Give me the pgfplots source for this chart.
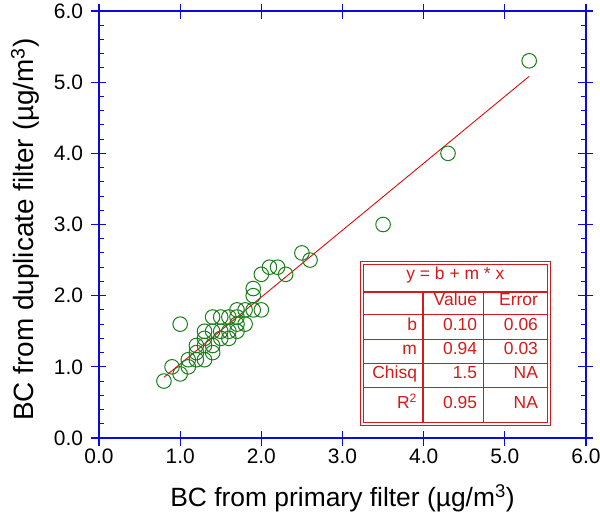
\documentclass[border=0pt]{standalone}
\usepackage{fontspec}
\setmainfont{Liberation Sans}
\usepackage{pgfplots}
\pgfplotsset{compat=1.18}

\definecolor{axblue}{RGB}{10,10,225}
\definecolor{mkgreen}{RGB}{25,125,25}
\definecolor{fitred}{RGB}{225,10,10}
\definecolor{tabred}{RGB}{215,25,25}

\begin{document}
\begin{tikzpicture}
\begin{axis}[
  scale only axis, width=487bp, height=427bp,
  xmin=0, xmax=6, ymin=0, ymax=6,
  axis line style={axblue, line width=1.3bp},
  xtick={0,1,...,6}, ytick={0,1,...,6},
  xticklabels={0.0,1.0,2.0,3.0,4.0,5.0,6.0},
  yticklabels={0.0,1.0,2.0,3.0,4.0,5.0,6.0},
  tick align=center, major tick length=15bp,
  major tick style={axblue, line width=1.2bp},
  ticklabel style={font=\fontsize{21}{25}\selectfont, black},
  yticklabel style={xshift=-5bp},
  xlabel={BC from primary filter (µg/m\textsuperscript{3})},
  ylabel={BC from duplicate filter (µg/m\textsuperscript{3})},
  every axis x label/.style={at={(rel axis cs:0.5,0)}, anchor=base, yshift=-68bp,
    font=\fontsize{26.5}{31}\selectfont},
  every axis y label/.style={at={(rel axis cs:0,0.488)}, xshift=-65.5bp, anchor=base, rotate=90,
    font=\fontsize{28}{33}\selectfont},
  clip=false,
]
\coordinate (O) at (rel axis cs:0,0);

% measured pairs (primary, duplicate)
\addplot[only marks, mark=o, mark size=7.3bp, mkgreen, mark options={line width=1bp}] coordinates {
 (0.8,0.8) (0.9,1.0) (1.0,0.9) (1.0,1.6) (1.1,1.0) (1.1,1.1)
 (1.2,1.1) (1.2,1.2) (1.2,1.3) (1.3,1.1) (1.3,1.3) (1.3,1.4) (1.3,1.5)
 (1.4,1.2) (1.4,1.3) (1.4,1.5) (1.4,1.7) (1.5,1.4) (1.5,1.5) (1.5,1.7)
 (1.6,1.4) (1.6,1.5) (1.6,1.7) (1.7,1.5) (1.7,1.6) (1.7,1.7) (1.7,1.8)
 (1.8,1.6) (1.8,1.8) (1.9,1.8) (1.9,2.0) (1.9,2.1) (2.0,1.8) (2.0,2.3)
 (2.1,2.4) (2.2,2.4) (2.3,2.3) (2.5,2.6) (2.6,2.5) (3.5,3.0) (4.3,4.0)
 (5.3,5.3)
};
% fit y = 0.10 + 0.94 x
\addplot[fitred, line width=0.9bp] coordinates {(0.8,0.852) (5.3,5.082)};

% fit results box
\fill[white] (axis cs:3.239,0.197) rectangle (axis cs:5.542,2.461);
\draw[tabred, line width=1bp] (axis cs:3.239,1.730) -- (axis cs:5.542,1.730);
\draw[tabred, line width=1bp] (axis cs:3.239,1.378) -- (axis cs:5.542,1.378);
\draw[tabred, line width=1bp] (axis cs:3.239,1.041) -- (axis cs:5.542,1.041);
\draw[tabred, line width=1bp] (axis cs:3.239,0.703) -- (axis cs:5.542,0.703);
\draw[tabred, line width=1bp] (axis cs:4.741,2.053) -- (axis cs:4.741,0.197);
\draw[tabred, line width=2bp] (axis cs:3.990,2.053) -- (axis cs:3.990,0.197);
\draw[tabred, line width=2bp] (axis cs:3.239,2.053) -- (axis cs:5.542,2.053);
\draw[tabred, line width=0.9bp, double=white, double distance=1.6bp] (axis cs:3.239,0.197) rectangle (axis cs:5.542,2.461);
\begin{scope}[every node/.style={tabred, font=\fontsize{17.5}{21}\selectfont, inner sep=0pt}]
\node[anchor=mid] at (axis cs:4.39,2.264) {y = b + m * x};
\node[anchor=mid east] at (axis cs:4.66,1.892) {Value};
\node[anchor=mid east] at (axis cs:5.41,1.892) {Error};
\node[anchor=mid east] at (axis cs:3.92,1.554) {b};
\node[anchor=mid east] at (axis cs:4.66,1.554) {0.10};
\node[anchor=mid east] at (axis cs:5.41,1.554) {0.06};
\node[anchor=mid east] at (axis cs:3.92,1.210) {m};
\node[anchor=mid east] at (axis cs:4.66,1.210) {0.94};
\node[anchor=mid east] at (axis cs:5.41,1.210) {0.03};
\node[anchor=mid east] at (axis cs:3.92,0.872) {Chisq};
\node[anchor=mid east] at (axis cs:4.66,0.872) {1.5};
\node[anchor=mid east] at (axis cs:5.41,0.872) {NA};
\node[anchor=mid east] at (axis cs:3.92,0.450) {R\textsuperscript{2}};
\node[anchor=mid east] at (axis cs:4.66,0.450) {0.95};
\node[anchor=mid east] at (axis cs:5.41,0.450) {NA};
\end{scope}
\end{axis}

% minor ticks on the left and right, pointing inward only
\begin{axis}[
  scale only axis, width=487bp, height=427bp,
  xmin=0, xmax=6, ymin=0, ymax=6,
  axis line style={draw=none},
  xtick=\empty, ytick={0,1,...,6}, yticklabels={},
  minor y tick num=4, tick align=inside,
  major tick length=0pt, minor tick length=5bp,
  minor tick style={axblue, line width=1bp},
]
\end{axis}

\pgfresetboundingbox
\path (O) ++(-99bp,-74bp) rectangle ++(600bp,512bp);
\end{tikzpicture}
\end{document}
